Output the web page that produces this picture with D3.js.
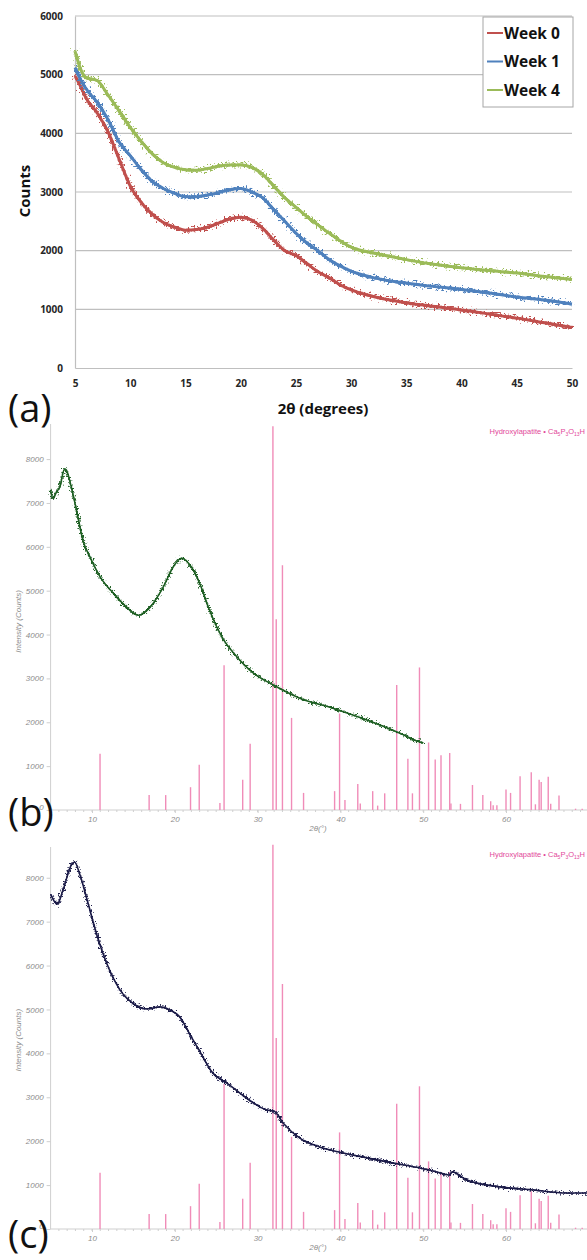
<!DOCTYPE html>
<html>
<head>
<meta charset="utf-8">
<script src="https://cdn.jsdelivr.net/npm/d3@7"></script>
<style>
  body { margin: 0; background: #fff; }
  svg { display: block; }
</style>
</head>
<body>
<svg id="chart" width="587" height="1260"></svg>
<script>
// panel (a): 2θ values shared by the three weeks
const weekDeg = [5, 5.5, 6, 7, 8, 9, 10, 11, 12, 13, 14, 15, 16, 17, 18, 19, 20, 21, 22, 23, 24, 25, 26, 27, 28, 29, 30, 32, 34.4, 37, 40, 42.5, 45, 47.5, 50];
const week0 = [4980, 4800, 4600, 4350, 4020, 3560, 3100, 2820, 2620, 2480, 2400, 2350, 2360, 2400, 2470, 2540, 2570, 2520, 2380, 2180, 2000, 1920, 1780, 1640, 1540, 1420, 1330, 1220, 1130, 1060, 990, 920, 850, 770, 690];
const week1 = [5120, 4920, 4760, 4530, 4230, 3850, 3620, 3380, 3180, 3060, 2980, 2920, 2920, 2950, 2990, 3040, 3060, 3000, 2900, 2700, 2500, 2300, 2130, 2000, 1850, 1740, 1650, 1540, 1460, 1400, 1340, 1280, 1210, 1160, 1090];
const week4 = [5400, 5100, 4950, 4900, 4650, 4380, 4100, 3860, 3650, 3500, 3420, 3380, 3370, 3400, 3440, 3460, 3460, 3420, 3300, 3100, 2900, 2740, 2580, 2440, 2300, 2170, 2060, 1960, 1870, 1780, 1710, 1660, 1620, 1560, 1510];
const weekNames = ["Week 0", "Week 1", "Week 4"];
const weekColors = ["#c0504d", "#4f81bd", "#9bbb59"];
const aYTicks = [0, 1000, 2000, 3000, 4000, 5000, 6000];
const aXTicks = [5, 10, 15, 20, 25, 30, 35, 40, 45, 50];

// panel (b) and (c) measured patterns [2θ, counts]
const scanB = [[5,7300],[5.3,7100],[5.7,7250],[6.1,7360],[6.7,7780],[6.9,7750],[7.5,7360],[8.3,6680],[8.9,6150],[9.75,5770],[11,5310],[12.6,4940],[14.2,4620],[15.6,4440],[17,4620],[18.6,5080],[19.8,5540],[20.8,5740],[22,5540],[23,5170],[24,4650],[25,4200],[26,3850],[27.1,3580],[29.5,3120],[31.9,2850],[35.1,2550],[39.1,2320],[43.2,2050],[47.2,1750],[49.6,1550],[50,1530]];
const scanC = [[5,7620],[5.8,7400],[6.5,7720],[7.5,8290],[7.9,8360],[8.5,8090],[9.55,7400],[10.55,6720],[11.8,6040],[13.4,5440],[15,5130],[16.6,5010],[18.2,5060],[19.4,4990],[20.6,4830],[21.8,4440],[23,4050],[24.6,3550],[26.3,3320],[27.9,3090],[29.5,2870],[31.1,2710],[32,2680],[33.1,2410],[35.1,2070],[37.5,1870],[39.9,1750],[43.2,1620],[46.4,1500],[49.6,1390],[52,1280],[53.2,1230],[53.5,1300],[55.2,1120],[59.2,960],[63.3,890],[67.3,820],[69.8,820]];

// hydroxylapatite reference sticks [2θ, counts]
const hapSticks = [[10.97,1280],[16.9,340],[18.9,340],[21.9,520],[22.95,1030],[25.45,160],[25.95,3300],[28.2,690],[29.1,1510],[31.85,8750],[32.25,4350],[33.0,5580],[34.1,2100],[35.55,390],[39.3,430],[39.9,2200],[40.55,230],[42.1,590],[42.4,150],[43.9,430],[44.5,100],[45.35,380],[46.8,2850],[48.15,1170],[48.7,380],[49.55,3250],[50.65,1540],[51.45,1150],[52.15,1250],[53.2,1300],[53.35,150],[54.5,140],[55.95,570],[57.2,340],[58.15,200],[58.45,110],[58.9,110],[60.0,470],[60.55,390],[61.7,770],[63.05,860],[63.55,130],[64.0,690],[64.25,640],[65.1,760],[65.4,140],[66.4,330],[68.4,30],[69.2,30]];
const xrdYTicks = [0, 1000, 2000, 3000, 4000, 5000, 6000, 7000, 8000];
const xrdXTicks = [10, 20, 30, 40, 50, 60];

const svg = d3.select("#chart");
const fmt = d3.format("d");

// noisy look for the scans
const defs = svg.append("defs");
function roughFilter(id, freq, scale) {
  const f = defs.append("filter").attr("id", id)
    .attr("x", "-5%").attr("y", "-5%").attr("width", "110%").attr("height", "110%");
  f.append("feTurbulence").attr("type", "fractalNoise").attr("baseFrequency", freq)
    .attr("numOctaves", 2).attr("seed", 4).attr("result", "n");
  f.append("feDisplacementMap").attr("in", "SourceGraphic").attr("in2", "n")
    .attr("scale", scale).attr("xChannelSelector", "R").attr("yChannelSelector", "G");
}
roughFilter("roughA", 0.5, 12);
roughFilter("roughB", 0.6, 9);

// ---------- panel (a) ----------
const ax = d3.scaleLinear().domain([5, 50]).range([75, 572]);
const ay = d3.scaleLinear().domain([0, 6000]).range([368, 16]);
const ga = svg.append("g");

ga.append("g").selectAll("line").data(aYTicks.slice(1)).join("line")
  .attr("x1", ax(5)).attr("x2", ax(50))
  .attr("y1", d => ay(d)).attr("y2", d => ay(d))
  .attr("stroke", "#bfbfbf").attr("stroke-width", 1.2);

const aLeft = ga.append("g").attr("transform", `translate(${ax(5)},0)`)
  .call(d3.axisLeft(ay).tickValues(aYTicks).tickFormat(fmt).tickSize(0).tickPadding(12));
const aBottom = ga.append("g").attr("transform", `translate(0,${ay(0)})`)
  .call(d3.axisBottom(ax).tickValues(aXTicks).tickFormat(fmt).tickSize(0).tickPadding(12));
[aLeft, aBottom].forEach(g => {
  g.select(".domain").attr("stroke", "#bfbfbf").attr("stroke-width", 1.2);
  g.selectAll("text").attr("font-family", "Open Sans, sans-serif")
    .attr("font-size", 10).attr("font-weight", "bold").attr("fill", "#262626");
});

const aLine = d3.line().x((d, i) => ax(weekDeg[i])).y(d => ay(d)).curve(d3.curveMonotoneX);
[week0, week1, week4].forEach((s, k) => {
  ga.append("path").datum(s).attr("d", aLine)
    .attr("fill", "none").attr("stroke", weekColors[k]).attr("stroke-width", 3);
  ga.append("path").datum(s).attr("d", aLine)
    .attr("fill", "none").attr("stroke", weekColors[k]).attr("stroke-width", 3)
    .attr("filter", "url(#roughA)");
});

const leg = ga.append("g");
leg.append("rect").attr("x", 483).attr("y", 17).attr("width", 90).attr("height", 90)
  .attr("fill", "#fff").attr("stroke", "#a6a6a6");
weekNames.forEach((n, k) => {
  const yy = 33 + k * 28.5;
  leg.append("line").attr("x1", 487).attr("x2", 503).attr("y1", yy).attr("y2", yy)
    .attr("stroke", weekColors[k]).attr("stroke-width", 2);
  leg.append("text").attr("x", 504).attr("y", yy).attr("dy", "0.36em")
    .attr("font-family", "Open Sans, sans-serif").attr("font-weight", "bold")
    .attr("font-size", 15.5).attr("fill", "#111").text(n);
});

ga.append("text").attr("transform", "translate(30,191) rotate(-90)")
  .attr("text-anchor", "middle").attr("font-family", "Open Sans, sans-serif")
  .attr("font-weight", "bold").attr("font-size", 15).attr("fill", "#111").text("Counts");
ga.append("text").attr("x", 323).attr("y", 414).attr("text-anchor", "middle")
  .attr("font-family", "Open Sans, sans-serif").attr("font-weight", "bold")
  .attr("font-size", 15).attr("fill", "#111").text("2θ (degrees)");

// ---------- panels (b) and (c) ----------
function xrdPanel(scan, color, y0, yTop, topVal) {
  const x = d3.scaleLinear().domain([5, 70]).range([50.6, 588.8]);
  const y = d3.scaleLinear().domain([0, topVal]).range([y0, yTop]);
  const g = svg.append("g");

  // y axis
  const left = g.append("g").attr("transform", `translate(${x(5)},0)`)
    .call(d3.axisLeft(y).tickValues(xrdYTicks).tickFormat(fmt).tickSize(4).tickPadding(3));
  left.select(".domain").attr("stroke", "#cfcfcf").attr("d", `M0,${y0}V${yTop}`);
  left.selectAll(".tick line").attr("stroke", "#cfcfcf");
  left.selectAll("text").attr("font-family", "Liberation Sans, sans-serif")
    .attr("font-style", "italic").attr("font-size", 8).attr("fill", "#8c8c8c");
  left.selectAll(".tick").filter(d => d === 0).select("text").attr("dy", "-0.1em");

  // x axis with minor ticks
  const bottom = g.append("g").attr("transform", `translate(0,${y0})`)
    .call(d3.axisBottom(x).tickValues(xrdXTicks).tickFormat(fmt).tickSize(3).tickPadding(3));
  bottom.select(".domain").attr("stroke", "#cfcfcf").attr("d", `M${x(5)},0H587`);
  bottom.selectAll(".tick line").attr("stroke", "#cfcfcf");
  bottom.selectAll("text").attr("font-family", "Liberation Sans, sans-serif")
    .attr("font-style", "italic").attr("font-size", 8).attr("fill", "#8c8c8c");
  bottom.append("g").selectAll("line").data(d3.range(6, 70)).join("line")
    .attr("x1", d => x(d)).attr("x2", d => x(d)).attr("y1", 0).attr("y2", 2)
    .attr("stroke", "#cfcfcf");

  // reference sticks
  g.append("g").selectAll("line").data(hapSticks).join("line")
    .attr("x1", d => x(d[0])).attr("x2", d => x(d[0]))
    .attr("y1", y(0)).attr("y2", d => y(d[1]))
    .attr("stroke", "#f08cb8").attr("stroke-width", 1.4);

  // scan
  const sLine = d3.line().x(d => x(d[0])).y(d => y(d[1])).curve(d3.curveMonotoneX);
  g.append("path").datum(scan).attr("d", sLine)
    .attr("fill", "none").attr("stroke", color).attr("stroke-width", 1.6);
  g.append("path").datum(scan).attr("d", sLine)
    .attr("fill", "none").attr("stroke", color).attr("stroke-width", 1.6)
    .attr("filter", "url(#roughB)");

  // labels
  g.append("text").attr("transform", `translate(21,${y(4300)}) rotate(-90)`)
    .attr("text-anchor", "middle").attr("font-family", "Liberation Sans, sans-serif")
    .attr("font-style", "italic").attr("font-size", 8).attr("fill", "#8c8c8c")
    .text("Intensity (Counts)");
  g.append("text").attr("x", 318).attr("y", y0 + 21).attr("text-anchor", "middle")
    .attr("font-family", "Liberation Sans, sans-serif").attr("font-style", "italic")
    .attr("font-size", 8).attr("fill", "#8c8c8c").text("2θ(°)");

  const t = g.append("text").attr("x", 585).attr("y", yTop + 10).attr("text-anchor", "end")
    .attr("font-family", "Liberation Sans, sans-serif").attr("font-size", 7.5).attr("fill", "#e2489a");
  t.append("tspan").text("Hydroxylapatite • Ca");
  t.append("tspan").attr("font-size", 5).attr("dy", 2).text("5");
  t.append("tspan").attr("dy", -2).text("P");
  t.append("tspan").attr("font-size", 5).attr("dy", 2).text("3");
  t.append("tspan").attr("dy", -2).text("O");
  t.append("tspan").attr("font-size", 5).attr("dy", 2).text("13");
  t.append("tspan").attr("dy", -2).text("H");
}
xrdPanel(scanB, "#1d5e22", 810, 424, 8800);
xrdPanel(scanC, "#1b1b48", 1229, 847, 8700);

// panel letters
[["(a)", 422], ["(b)", 826], ["(c)", 1248]].forEach(([s, yy]) => {
  svg.append("text").attr("x", 8).attr("y", yy)
    .attr("font-family", "Open Sans, sans-serif").attr("font-size", 38)
    .attr("fill", "#111").text(s);
});
</script>
</body>
</html>
